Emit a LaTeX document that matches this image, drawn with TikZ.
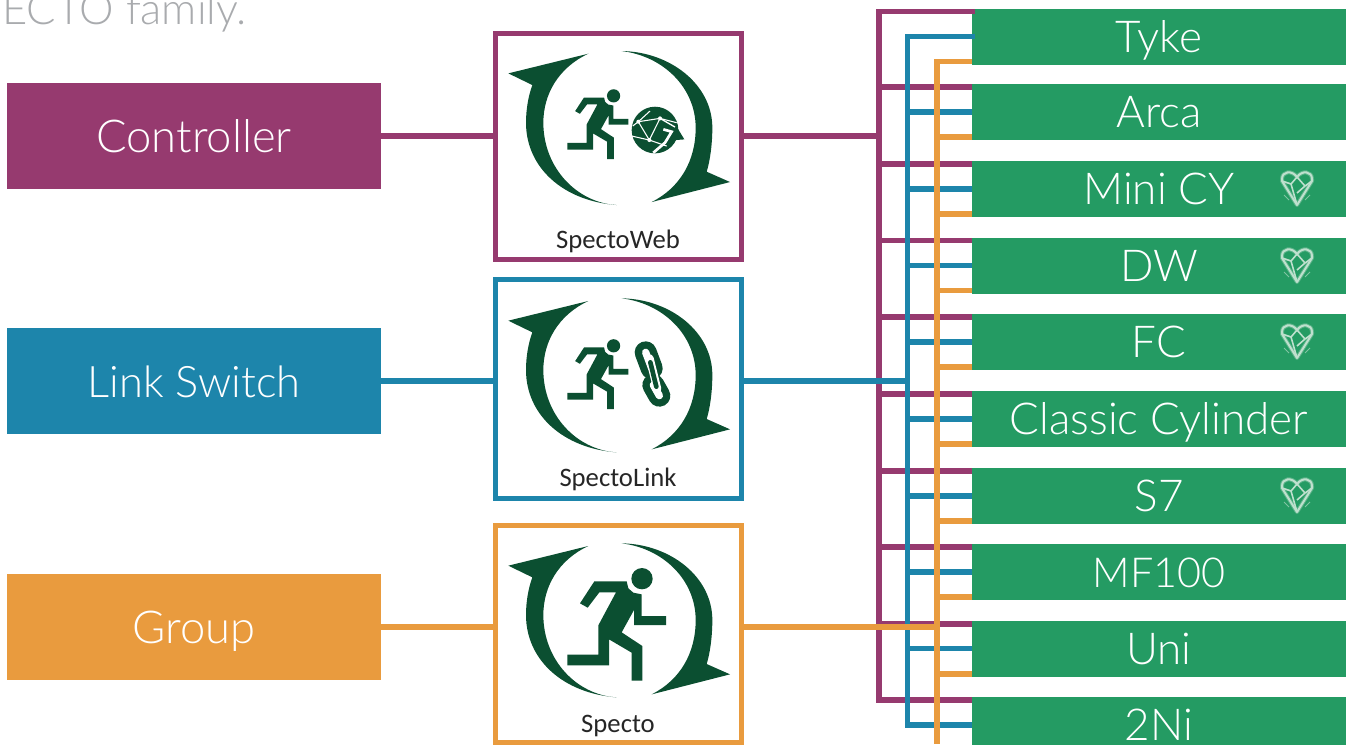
\documentclass[tikz,border=0pt]{standalone}
\usepackage{fontspec}
\setmainfont{Lato}[UprightFont=* Light]
\newfontfamily\lblfont{Carlito}
\definecolor{cmag}{HTML}{963A6F}
\definecolor{cblu}{HTML}{1D85AB}
\definecolor{cora}{HTML}{E99B3E}
\definecolor{cgrn}{HTML}{249B63}
\definecolor{cdrk}{HTML}{0B4F31}
\definecolor{cgry}{HTML}{A9ABAE}
\definecolor{chrt}{HTML}{BFE0CE}
\tikzset{
  mode/.style={rectangle,inner sep=0pt,outer sep=0pt,text=white,minimum width=280.5pt,minimum height=79.5pt,
     font=\fontsize{34}{36}\selectfont,text height=24.5pt,text depth=0pt},
  product/.style={rectangle,inner sep=0pt,outer sep=0pt,fill=cgrn,text=white,minimum width=280.5pt,minimum height=42pt,
     font=\fontsize{33}{36}\selectfont,text height=23.8pt,text depth=0pt},
  panel/.style={rectangle,draw,line width=3.6pt,fill=white,inner sep=0pt,outer sep=0pt,minimum width=185pt},
  caption/.style={inner sep=0pt,text=black!85,font=\lblfont\fontsize{20}{22}\selectfont},
  wire/.style={line width=4pt},
}
\newcommand{\orbit}{%
  \fill[cdrk] (295,78) .. controls (205,120) and (160,200) .. (160,285)
     .. controls (160,420) and (260,525) .. (380,532)
     .. controls (220,520) and (108,420) .. (108,285)
     .. controls (108,245) and (115,205) .. (127,172) -- (55,137) -- cycle;
  \fill[cdrk] (395,70) .. controls (540,72) and (667,170) .. (667,300)
     .. controls (667,350) and (660,400) .. (650,432) -- (720,463) -- (485,523)
     .. controls (570,480) and (617,400) .. (617,300)
     .. controls (617,180) and (520,85) .. (395,70) -- cycle;
}
\newcommand{\runner}{%
  \fill[cdrk] (456,176) circle[radius=32];
  \fill[cdrk] (270,250) -- (313,184) -- (410,184) -- (415,205) -- (430,218) -- (455,223) -- (455,288) -- (528,288) -- (528,315)
   -- (432,315) -- (432,270) -- (395,337) -- (457,378) -- (457,482) -- (425,482) -- (425,398) -- (357,358) -- (357,436)
   -- (232,436) -- (232,404) -- (325,404) -- (325,316) -- (378,217) -- (328,217) -- (293,263) -- cycle;
}
\begin{document}
\begin{tikzpicture}[x=0.75pt,y=-0.75pt]
\useasboundingbox (0,0) rectangle (1352,744);
\clip (0,0) rectangle (1352,744);
\node[anchor=base west,inner sep=0pt,text=cgry,font=\fontsize{32.7}{34}\selectfont] (intro) at (2,24) {ECTO family.};

% product rows
\node[product] (r1) at (1159,37) {Tyke};
\node[product] (r2) at (1159,112) {Arca};
\node[product] (r3) at (1159,189) {Mini CY};
\node[product] (r4) at (1159,266) {DW};
\node[product] (r5) at (1159,342) {FC};
\node[product] (r6) at (1159,419) {Classic Cylinder};
\node[product] (r7) at (1159,496) {S7};
\node[product,font=\fontsize{31}{36}\selectfont] (r8) at (1159,572) {MF100};
\node[product] (r9) at (1159,649) {Uni};
\node[product] (r10) at (1159,725) {2Ni};

% left mode boxes
\node[mode,fill=cmag] (ctrl) at (194,136) {Controller};
\node[mode,fill=cblu,font=\fontsize{32.6}{36}\selectfont] (link) at (194,381) {Link Switch};
\node[mode,fill=cora] (grp) at (194,627) {Group};

% panels
\node[panel,draw=cmag,minimum height=170pt] (web) at (618.5,146.5) {};
\node[panel,draw=cblu,minimum height=164pt] (lnk) at (618.5,389) {};
\node[panel,draw=cora,minimum height=163pt] (spc) at (618.5,634) {};
\node[caption] (capw) at (618,241) {SpectoWeb};
\node[caption] (capl) at (618,479.5) {SpectoLink};
\node[caption] (caps) at (618,726) {Specto};

% trunks
\coordinate (mt) at (879,11.5);
\coordinate (mb) at (879,700);
\coordinate (bt) at (907.5,36.5);
\coordinate (bb) at (907.5,725);
\coordinate (ot) at (937,61.5);
\coordinate (ob) at (937,744);

% magenta
\draw[wire,cmag] (ctrl.east) -- (ctrl.east -| web.west);
\draw[wire,cmag] (ctrl.east -| web.east) -- (ctrl.east -| mt);
\draw[wire,cmag,line join=miter] (r1.west |- mt) ++(3,0) -- (mt) -- (mb) -- (mb -| r10.west);
\foreach \y/\n in {87/2,164/3,240.5/4,317/5,394/6,471/7,547/8,624/9}
  \draw[wire,cmag] (879,\y) -- (r\n.west |- 0,\y);
% blue
\draw[wire,cblu] (link.east) -- (link.east -| lnk.west);
\draw[wire,cblu] (link.east -| lnk.east) -- (link.east -| bt);
\draw[wire,cblu] (r1.west |- bt) ++(3,0) -- (bt) -- (bb) -- (bb -| r10.west);
\foreach \y/\n in {112/2,189/3,265.5/4,342/5,419/6,496/7,572/8,648.5/9}
  \draw[wire,cblu] (907.5,\y) -- (r\n.west |- 0,\y);
% orange
\draw[wire,cora] (grp.east) -- (grp.east -| spc.west);
\draw[wire,cora] (grp.east -| spc.east) -- (grp.east -| ot) -- ++(3,0);
\draw[wire,cora] (r1.west |- ot) -- (ot) -- (ob);
\foreach \y/\n in {137/2,214/3,290.5/4,367/5,444/6,521/7,597/8,674/9}
  \draw[wire,cora] (937,\y) -- (r\n.west |- 0,\y);

% icons
\begin{scope}[shift={(490,27.7)},x=0.25pt,y=-0.25pt]
  \orbit
  \begin{scope}[shift={(88,95.3)},scale=0.62]\runner\end{scope}
  \fill[cdrk] (495,307) circle[radius=70];
  \fill[cdrk] (545,338) -- (560,297) -- (583,335) -- cycle;
  \draw[white,line width=.8pt] (428,295) -- (445,282) -- (510,272) -- (560,285);
  \draw[white,line width=.8pt] (445,282) -- (478,337) -- (510,272);
  \draw[white,line width=.8pt] (425,325) -- (478,337) -- (530,355);
  \draw[white,line width=.8pt] (445,282) -- (480,250);
  \draw[white,line width=1pt] (510,272) -- (555,298);
  \draw[white,line width=2pt] (520,305) -- (545,312) -- (525,345) -- (490,375);
  \fill[white] (445,282) circle[radius=6] (510,272) circle[radius=6] (478,337) circle[radius=6];
\end{scope}
\begin{scope}[shift={(490,275)},x=0.25pt,y=-0.25pt]
  \orbit
  \begin{scope}[shift={(88,103.3)},scale=0.62]\runner\end{scope}
  \draw[cdrk,line width=16.5pt,line cap=round] (490,330) -- (508,362);
  \draw[white,line width=5.5pt,line cap=round] (490,330) -- (508,362);
  \draw[cdrk,line width=16.5pt,line cap=round] (467,232) -- (485,280);
  \draw[white,line width=5.5pt,line cap=round] (467,232) -- (485,280);
  \draw[white,line width=6pt,line cap=round] (479,250) -- (502,342);
  \draw[cdrk,line width=3.5pt,line cap=round] (481,262) -- (499,335);
\end{scope}
\begin{scope}[shift={(490,520)},x=0.25pt,y=-0.25pt]
  \orbit
  \runner
\end{scope}

% hearts
\foreach \h in {r3,r4,r5,r7}{
  \begin{scope}[shift={(\h.center)},shift={(138,-1)}]
    \draw[chrt,opacity=.35,line width=3pt,line join=round] (-15,-9) .. controls (-15,-17) and (-5,-18) .. (0,-11) .. controls (5,-18) and (15,-17) .. (15,-9) -- (15,-7) -- (0,17) -- (-15,-7) -- cycle;
    \draw[chrt,line width=1.5pt,line join=round] (-15,-9) .. controls (-15,-17) and (-5,-18) .. (0,-11) .. controls (5,-18) and (15,-17) .. (15,-9) -- (15,-7) -- (0,17) -- (-15,-7) -- cycle;
    \draw[chrt,line width=1.2pt,line join=round] (-15,-7) -- (-6,-4) -- (0,17) (-6,-4) -- (0,-11) -- (8,-2) -- (15,-7) (8,-2) -- (0,5);
    \draw[chrt,opacity=.6,line width=.6pt] (-13,7) -- (-8,12) (13,7) -- (8,12);
  \end{scope}
}
\end{tikzpicture}
\end{document}
